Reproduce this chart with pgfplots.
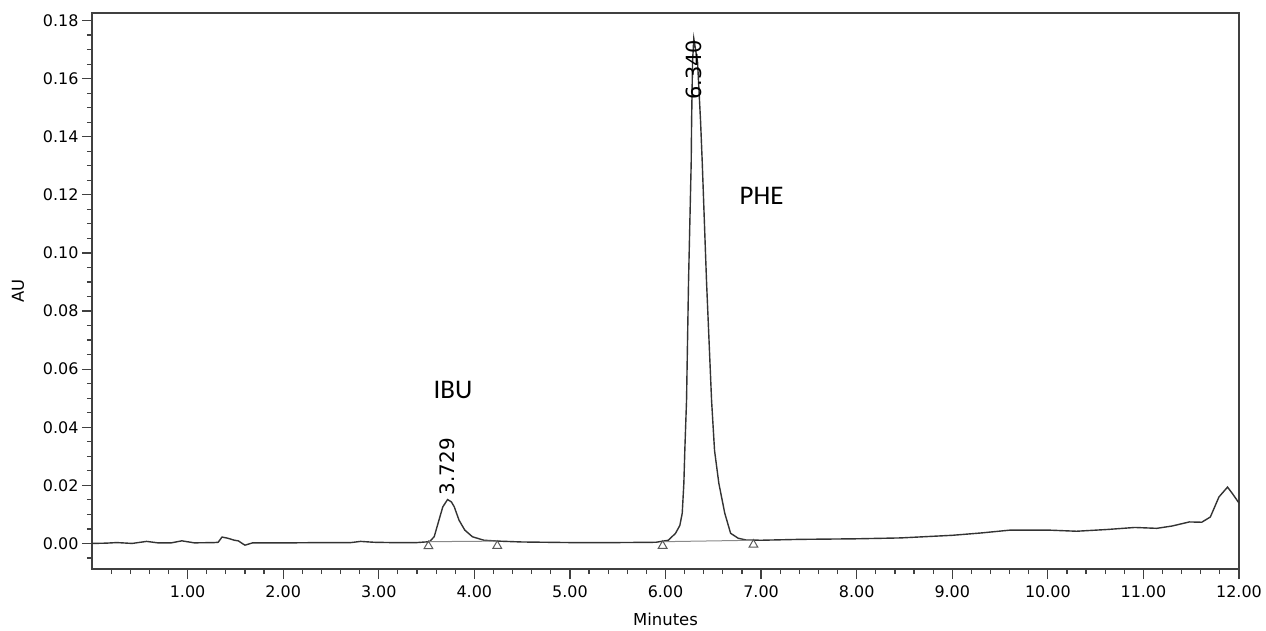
\documentclass[border=0pt]{standalone}
\usepackage{fontspec}
\setmainfont{DejaVu Sans}
\newfontfamily\calfont{Carlito}
\usepackage{pgfplots}
\pgfplotsset{compat=1.18}
\definecolor{axgray}{HTML}{404040}
\definecolor{curve}{HTML}{333333}
\definecolor{basegray}{HTML}{8A8A8A}
\begin{document}
\begin{tikzpicture}
\begin{axis}[
  scale only axis,
  width=1147bp, height=556bp,
  xmin=0, xmax=12,
  ymin=-0.0088, ymax=0.1826,
  axis line style={axgray, line width=1.4bp},
  xtick={1,2,3,4,5,6,7,8,9,10,11,12},
  minor xtick={0.2,0.4,0.6,0.8,1.2,1.4,1.6,1.8,2.2,2.4,2.6,2.8,3.2,3.4,3.6,3.8,4.2,4.4,4.6,4.8,5.2,5.4,5.6,5.8,6.2,6.4,6.6,6.8,7.2,7.4,7.6,7.8,8.2,8.4,8.6,8.8,9.2,9.4,9.6,9.8,10.2,10.4,10.6,10.8,11.2,11.4,11.6,11.8},
  ytick={0,0.02,0.04,0.06,0.08,0.10,0.12,0.14,0.16,0.18},
  minor ytick={-0.005,0.005,0.01,0.015,0.025,0.03,0.035,0.045,0.05,0.055,0.065,0.07,0.075,0.085,0.09,0.095,0.105,0.11,0.115,0.125,0.13,0.135,0.145,0.15,0.155,0.165,0.17,0.175},
  xtick pos=bottom, ytick pos=left,
  tick align=outside,
  major tick length=10bp, minor tick length=5bp,
  every tick/.style={axgray, line width=1.2bp},
  minor tick style={axgray, line width=1.2bp},
  scaled y ticks=false,
  xticklabel style={/pgf/number format/.cd, fixed, fixed zerofill, precision=2, /tikz/.cd, yshift=-3bp},
  yticklabel style={/pgf/number format/.cd, fixed, fixed zerofill, precision=2, /tikz/.cd},
  /pgf/number format/assume math mode=true,
  tick label style={font=\fontsize{16}{19}\selectfont, text=black},
  xlabel={Minutes}, ylabel={AU},
  label style={font=\fontsize{16.5}{19}\selectfont, text=black},
  xlabel style={at={(rel axis cs:0.5,0)}, anchor=center, yshift=-50bp},
  ylabel style={at={(rel axis cs:0,0.5)}, anchor=center, yshift=74bp},
  clip=false,
]
\addplot[curve, line width=1.4bp] coordinates {
(0.00,0.0000) (0.15,0.0001) (0.26,0.0003) (0.42,0.0000) (0.57,0.0007) (0.69,0.0002)
(0.83,0.0002) (0.94,0.0009) (1.07,0.0002) (1.28,0.0003) (1.32,0.0004) (1.36,0.0022)
(1.42,0.0018) (1.49,0.0011) (1.53,0.0009) (1.60,-0.0006) (1.68,0.0002) (2.08,0.0002)
(2.40,0.0003) (2.71,0.0003) (2.81,0.0007) (2.95,0.0004) (3.12,0.0003) (3.40,0.0003)
(3.53,0.0006) (3.58,0.0023) (3.62,0.0069) (3.67,0.0126) (3.72,0.0151) (3.76,0.0143)
(3.79,0.0126) (3.84,0.0080) (3.90,0.0046) (3.98,0.0023) (4.10,0.0011) (4.25,0.0008)
(4.50,0.0005) (5.00,0.0003) (5.50,0.0003) (5.90,0.0004) (6.03,0.0011) (6.105,0.0035)
(6.150,0.0062) (6.175,0.0104) (6.192,0.0207) (6.202,0.0320) (6.220,0.0492) (6.241,0.0903)
(6.269,0.1315) (6.273,0.1452) (6.283,0.1658) (6.296,0.1738) (6.335,0.1658) (6.367,0.1452)
(6.384,0.1315) (6.429,0.0903) (6.482,0.0492) (6.513,0.0320) (6.558,0.0207) (6.620,0.0104)
(6.681,0.0035) (6.76,0.0018) (6.84,0.0012) (7.00,0.0011) (7.40,0.0014) (8.00,0.0016)
(8.46,0.0019) (9.00,0.0028) (9.30,0.0036) (9.61,0.0046) (10.00,0.0046) (10.30,0.0042)
(10.62,0.0048) (10.91,0.0055) (11.14,0.0052) (11.30,0.0060) (11.48,0.0074) (11.61,0.0073)
(11.70,0.0091) (11.79,0.0160) (11.88,0.0194) (11.93,0.0172) (12.00,0.0139)
};
% integration baselines
\addplot[basegray, line width=1bp] coordinates {(3.52,0.0006) (4.24,0.0008)};
\addplot[basegray, line width=1bp] coordinates {(5.97,0.0006) (6.92,0.0011)};
% baseline markers
\addplot[only marks, mark=triangle, mark size=5bp, mark options={black!65, line width=1bp, fill=white}] coordinates {
(3.52,-0.0009) (4.24,-0.0008) (5.97,-0.0008) (6.92,-0.0004)};
\node[rotate=90, anchor=west, inner sep=0pt, font=\fontsize{20}{22}\selectfont] at (axis cs:3.72,0.0166) {3.729};
\node[rotate=90, anchor=west, inner sep=0pt, font=\fontsize{21}{23}\selectfont] at (axis cs:6.296,0.1527) {6.340};
\node[font=\calfont\fontsize{27}{30}\selectfont] at (axis cs:3.776,0.0528) {IBU};
\node[font=\calfont\fontsize{27}{30}\selectfont] at (axis cs:7.005,0.1195) {PHE};
\end{axis}
\pgfresetboundingbox
\path (current axis.south west) ++(-92bp,-61bp) rectangle ([shift={(27bp,13bp)}]current axis.north east);
\end{tikzpicture}
\end{document}
